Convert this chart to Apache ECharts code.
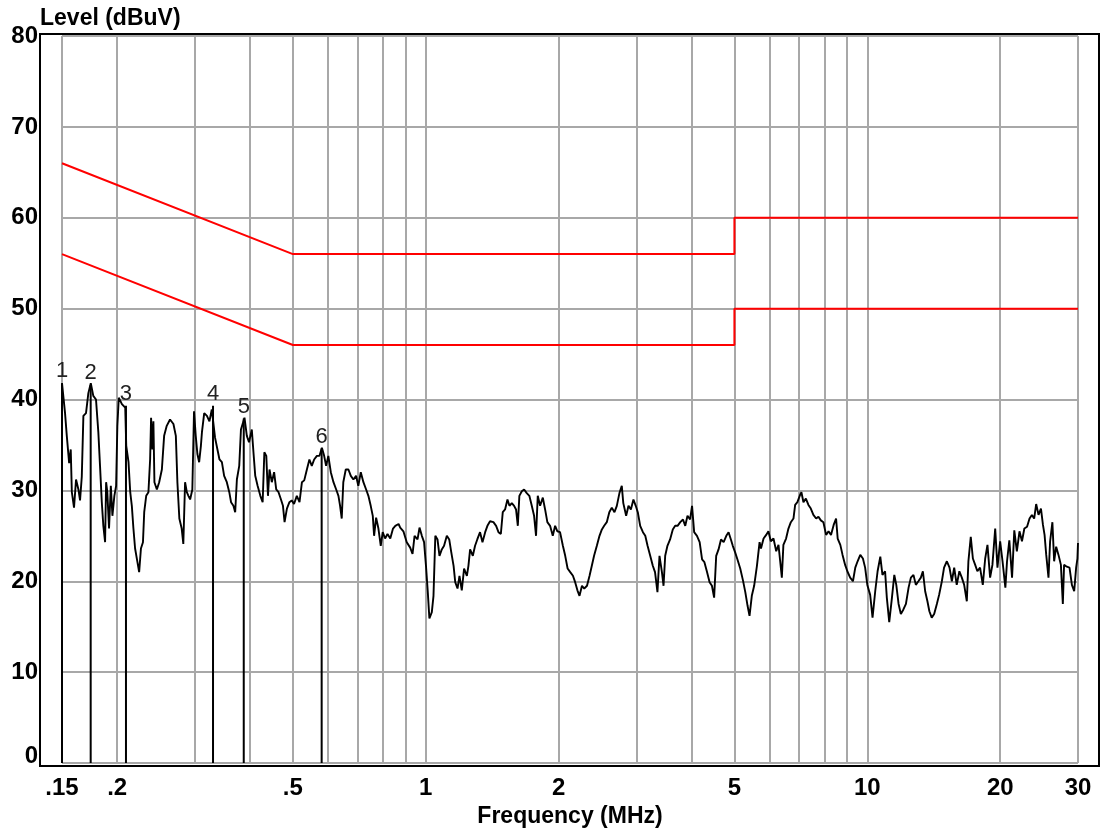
<!DOCTYPE html>
<html>
<head>
<meta charset="utf-8">
<script src="https://cdn.jsdelivr.net/npm/echarts@6/dist/echarts.min.js"></script>
<style>
html,body{margin:0;padding:0;background:#fff;}
#chart{width:1101px;height:830px;}
</style>
</head>
<body>
<div id="chart"></div>
<script>
// ---- data ----
const gridFreqs = [0.15,0.2,0.3,0.4,0.5,0.6,0.7,0.8,0.9,1,2,3,4,5,6,7,8,9,10,20,30];
const tickFreqs = [0.15,0.2,0.5,1,2,5,10,20,30];
const tickLabels = ['.15','.2','.5','1','2','5','10','20','30'];

const qpFreq  = [0.15,0.5,5,5,30];
const qpLevel = [66,56,56,60,60];
const avFreq  = [0.15,0.5,5,5,30];
const avLevel = [56,46,46,50,50];

const markerNames = ['1','2','3','4','5','6'];
const markerFreq  = [0.150,0.1742,0.2094,0.3297,0.387,0.581];
const markerLevel = [41.8,41.6,39.3,39.3,37.9,34.6];

const traceFreq = [
0.150,0.1524,0.1538,0.1557,0.1570,0.1579,0.1597,0.1614,0.1634,0.1648,0.1663,0.1677,0.170,0.1721,0.1743,0.1766,0.1791,0.1813,0.1829,0.1846,
0.1861,0.1878,0.1888,0.19,0.1917,0.1935,0.1951,0.1971,0.1989,0.2002,0.2017,0.2050,0.2086,0.2097,0.2122,0.2141,0.2159,0.2177,0.2196,0.2223,
0.2243,0.2264,0.2288,0.2303,0.2327,0.2354,0.2375,0.2387,0.2403,0.2416,0.2429,0.2460,0.2490,0.2525,0.2555,0.2590,0.2635,0.2682,0.2716,0.2738,
0.2766,0.2800,0.2824,0.2850,0.2876,0.2900,0.2926,0.2960,0.2986,0.3013,0.3039,0.3067,0.3095,0.3112,0.3149,0.3194,0.3236,0.3276,0.3302,0.3332,
0.3374,0.3410,0.3453,0.3494,0.3543,0.3589,0.3622,0.3667,0.3701,0.3734,0.3780,0.3814,0.3853,0.3885,0.3933,0.3978,0.4036,0.4071,0.4109,0.4160,
0.4220,0.4271,0.4309,0.4353,0.4391,0.4426,0.4480,0.4534,0.4584,0.4640,0.4699,0.4748,0.4788,0.4847,0.4911,0.4970,0.5030,0.5104,0.5176,0.5242,
0.5305,0.5379,0.5450,0.5518,0.5587,0.5667,0.5745,0.5817,0.5886,0.5946,0.6016,0.6094,0.6179,0.6267,0.6341,0.6396,0.6451,0.6504,0.6588,0.6680,
0.6764,0.6856,0.6951,0.7034,0.7125,0.7223,0.7326,0.7413,0.7504,0.7585,0.7637,0.7718,0.7811,0.7907,0.7988,0.8088,0.8190,0.8309,0.8429,0.8531,
0.8677,0.8751,0.8898,0.9054,0.9218,0.9332,0.9431,0.9579,0.9678,0.9797,0.9911,1.001,1.0105,1.019,1.032,1.041,1.051,1.063,1.074,1.087,
1.100,1.116,1.130,1.142,1.156,1.166,1.180,1.192,1.2065,1.221,1.239,1.249,1.260,1.278,1.293,1.308,1.327,1.344,1.363,1.379,
1.398,1.423,1.443,1.461,1.479,1.494,1.512,1.531,1.547,1.566,1.585,1.601,1.616,1.629,1.650,1.670,1.693,1.716,1.738,1.759,
1.777,1.793,1.815,1.841,1.863,1.885,1.912,1.939,1.963,1.986,2.014,2.044,2.069,2.095,2.124,2.154,2.179,2.205,2.229,2.258,
2.285,2.318,2.349,2.377,2.405,2.440,2.474,2.505,2.535,2.570,2.604,2.638,2.675,2.708,2.745,2.779,2.801,2.843,2.878,2.914,
2.953,2.989,3.021,3.059,3.103,3.141,3.179,3.223,3.267,3.305,3.347,3.383,3.426,3.455,3.485,3.526,3.575,3.626,3.671,3.717,
3.770,3.824,3.869,3.915,3.968,4.009,4.053,4.113,4.171,4.224,4.276,4.336,4.393,4.447,4.498,4.547,4.603,4.662,4.727,4.793,
4.850,4.909,4.958,5.017,5.080,5.154,5.228,5.292,5.355,5.410,5.475,5.542,5.623,5.701,5.743,5.821,5.901,5.970,6.045,6.130,
6.218,6.292,6.348,6.403,6.455,6.546,6.627,6.711,6.803,6.863,6.944,7.042,7.091,7.167,7.258,7.356,7.447,7.548,7.657,7.750,
7.847,7.952,8.066,8.168,8.274,8.390,8.496,8.567,8.686,8.788,8.907,9.010,9.144,9.277,9.391,9.505,9.639,9.772,9.886,10.00,
10.149,10.275,10.42,10.55,10.70,10.82,10.97,11.07,11.21,11.37,11.51,11.63,11.77,11.91,12.07,12.23,12.40,12.55,12.72,12.88,
13.05,13.22,13.36,13.52,13.68,13.82,13.99,14.17,14.37,14.54,14.75,14.92,15.14,15.35,15.54,15.73,15.94,16.16,16.37,16.57,
16.80,16.94,17.15,17.34,17.55,17.75,18.00,18.26,18.49,18.71,18.97,19.20,19.48,19.71,19.99,20.24,20.54,20.72,20.97,21.27,
21.52,21.81,22.11,22.40,22.68,23.00,23.30,23.59,23.87,24.12,24.42,24.73,24.99,25.20,25.42,25.72,25.94,26.25,26.49,26.77,
27.10,27.44,27.72,27.90,28.30,28.70,29.06,29.41,29.71,29.91,30.0
];
const traceLevel = [
41.8,38.5,36,33,34.5,29.8,28.1,31.2,30.1,28.9,31.5,38.2,38.5,40.7,41.8,40.4,40,36.4,32.7,28.7,
26.1,24.3,30.9,29.8,25.8,30.5,27.2,29.4,30.5,37.1,40.2,39.5,39.1,34.9,33.1,29.8,28.3,25.8,23.6,22.1,
21,23.6,24.3,27.6,29.4,29.8,33.4,38,34.5,37.6,30.9,30.1,30.9,32.3,36,37.1,37.8,37.3,36,30.9,
26.9,25.8,24.1,30.9,29.8,29.4,29,30.1,38.7,36,34,33.1,34.9,36.4,38.5,38.2,37.6,38.9,39.1,35.8,
34.5,33.4,33.1,31.6,30.9,29.8,28.7,28.3,27.6,31.2,32.7,36.7,37.4,38,36,35.3,36.7,34.2,31.6,30.5,
29.4,28.7,34.2,33.8,29.4,32.3,30.9,32,30.1,29.8,29,28.3,26.5,28,28.7,28.9,28.5,29.4,28.7,30.9,
31.1,32.3,33.4,32.7,33.4,33.8,33.8,34.7,33.8,32.7,33.8,32,30.9,30.1,29.4,28.3,26.9,30.9,32.3,32.3,
31.6,31.2,31.6,30.5,32,30.9,30.1,29.4,28.3,27.2,25,27,25.8,23.9,25.4,24.7,25.2,24.7,25.8,26.1,
26.3,25.9,25.5,24.3,23.7,23,25,24.6,25.9,25,24.3,21.7,18.8,15.9,16.6,18.4,25,24.6,22.8,23.5,
23.9,25,24.6,23.2,21.7,19.9,19.2,20.6,19,21.4,20.6,21.7,23.5,22.8,23.9,24.6,25.4,24.3,25.4,26.1,
26.6,26.5,26.1,25.4,25.2,27.6,27.9,29,28.3,28.6,28.3,27.9,26.1,29.4,29.9,30.1,29.7,29.4,28.3,27.2,
25,29.4,28.3,29.2,27.9,26.5,26.1,25,26.1,25.5,25.4,23.9,22.8,21.4,21,20.6,19.9,19,18.4,19.5,
19.2,19.5,20.6,21.7,22.8,23.9,25,25.7,26.1,26.5,27.6,28.1,27.6,28.3,29.7,30.5,28.6,27.2,28.3,27.9,
29,28.3,27.6,26.1,25.4,25,23.9,22.8,21.7,21,18.8,22.8,21,19.5,22.8,23.9,24.6,25.7,26.1,26.1,
26.5,26.8,26.1,27.2,26.8,28.3,25.4,25,24.3,22.4,22.1,21,19.9,19.5,18.2,22.8,23.5,24.6,24.3,25,
25.4,24.6,23.9,23.2,22.4,21.4,20.1,18.8,17.3,16.2,18.4,19.5,21.7,24.3,23.6,24.7,25.1,25.5,24.4,24.7,
23.3,24,22.2,20.4,24,24.7,25.8,26.5,26.9,28.4,28.7,29.5,29.8,28.7,29.1,28.4,28,27.3,26.9,27.1,
26.7,26.5,25.1,25.5,25.1,26.2,26.9,24.7,24,22.9,21.8,21.1,20.4,20,21.5,22.2,22.9,22.5,21.5,19.6,
18.5,16,18.9,21.1,22.7,20.7,21.1,18.2,15.5,18.2,20.7,19.6,17.5,16.4,16.9,17.5,19.3,20.4,20.7,19.6,
20,20.4,21.1,18.9,17.8,16.7,16,16.4,17.5,18.5,20,21.5,22.2,21.5,20,21.5,19.6,21.1,20.4,19.6,
17.8,22.2,24.9,22.5,21.8,21.1,21.5,19.6,22.5,24,20.4,21.8,25.8,21.5,24.4,22.2,19.3,22.2,24.5,20.4,
25.6,23.3,25.5,24.4,25.8,26,26.9,27.3,26.9,28.5,27.3,28,26.2,25.1,22.9,20.4,24.4,26.5,22.2,23.8,
22.9,21.8,17.5,21.8,21.6,21.5,19.6,18.9,21.5,22.5,24.2
];

// ---- chart ----
const FONT = "'Liberation Sans', Arial, sans-serif";
const chart = echarts.init(document.getElementById('chart'), null, {renderer:'canvas'});

const tracePairs = traceFreq.map((f,i)=>[f, traceLevel[i]]);
const qpPairs = qpFreq.map((f,i)=>[f, qpLevel[i]]);
const avPairs = avFreq.map((f,i)=>[f, avLevel[i]]);
const markerData = markerFreq.map((f,i)=>[f, markerLevel[i]]);

chart.setOption({
  animation:false,
  backgroundColor:'#fff',
  title:{
    text:'Level (dBuV)', left:40, top:7, padding:0,
    textStyle:{fontFamily:FONT, fontWeight:'bold', fontSize:23, color:'#000'}
  },
  grid:[
    {left:62, right:23, top:36, bottom:67, show:false, containLabel:false, outerBoundsMode:'none'},
    {left:40, right:2, top:34, bottom:64, show:true, borderColor:'#000', borderWidth:2,
     backgroundColor:'transparent', containLabel:false, outerBoundsMode:'none'}
  ],
  xAxis:[
    {
      type:'log', logBase:10, min:0.15, max:30, gridIndex:0,
      name:'Frequency (MHz)', nameLocation:'middle', nameGap:41,
      nameTextStyle:{fontFamily:FONT, fontWeight:'bold', fontSize:23, color:'#000'},
      axisLine:{show:false},
      axisTick:{show:false, customValues:gridFreqs},
      splitLine:{show:true, lineStyle:{color:'#a8a8a8', width:2}},
      minorSplitLine:{show:false},
      axisLabel:{
        customValues:tickFreqs, margin:13,
        fontFamily:FONT, fontWeight:'bold', fontSize:24, color:'#000',
        formatter:function(v){
          let idx = -1, best = Infinity;
          tickFreqs.forEach((t,i)=>{const d=Math.abs(Math.log(t)-Math.log(v)); if(d<best){best=d; idx=i;}});
          return tickLabels[idx];
        }
      }
    },
    {type:'value', gridIndex:1, show:false, min:0, max:1}
  ],
  yAxis:[
    {
      type:'value', min:0, max:80, interval:10, gridIndex:0,
      axisLine:{show:false}, axisTick:{show:false},
      splitLine:{show:true, lineStyle:{color:'#a8a8a8', width:2}},
      axisLabel:{
        margin:24, fontFamily:FONT, fontWeight:'bold', fontSize:24, color:'#000',
        formatter:function(v){ return v === 0 ? '{z|0}' : String(v); },
        rich:{z:{fontFamily:FONT, fontWeight:'bold', fontSize:24, color:'#000', padding:[0,0,14,0]}}
      }
    },
    {type:'value', gridIndex:1, show:false, min:0, max:1}
  ],
  series:[
    {
      name:'QP limit', type:'line', data:qpPairs, showSymbol:false,
      lineStyle:{color:'#ff0000', width:2}, z:3
    },
    {
      name:'AV limit', type:'line', data:avPairs, showSymbol:false,
      lineStyle:{color:'#ff0000', width:2}, z:3
    },
    {
      name:'Trace', type:'line', data:tracePairs, showSymbol:false,
      lineStyle:{color:'#000', width:1.9}, z:4
    },
    {
      name:'Markers', type:'custom', data:markerData, z:5,
      renderItem:function(params, api){
        const f = api.value(0), l = api.value(1);
        const top = api.coord([f, l]);
        const bot = api.coord([f, 0]);
        return {type:'group', children:[
          {type:'line', shape:{x1:top[0], y1:top[1], x2:bot[0], y2:bot[1]},
           style:{stroke:'#000', lineWidth:2}},
          {type:'text', x:top[0], y:top[1]-12,
           style:{text:markerNames[params.dataIndex], align:'center', verticalAlign:'middle',
                  fill:'#222', font:'22px ' + FONT}}
        ]};
      }
    }
  ]
});
</script>
</body>
</html>
